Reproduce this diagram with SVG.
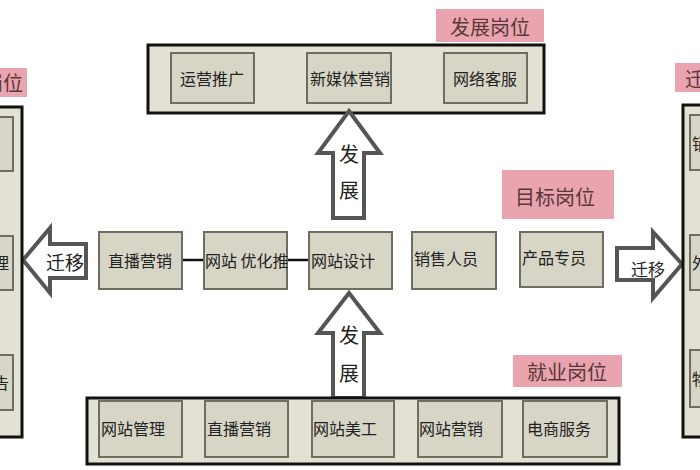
<svg xmlns="http://www.w3.org/2000/svg" width="700" height="470" viewBox="0 0 700 470">
<defs>
<style>
.panel{fill:#e3e1d3;stroke:#111;stroke-width:3}
.box{fill:#d7d5c5;stroke:#6e6d62;stroke-width:2}
.lbl{fill:#e9a4b0}
.arrow{fill:#fff;stroke:#555;stroke-width:4;stroke-linejoin:miter}
.conn{stroke:#111;stroke-width:2.5;fill:none}
text{font-family:"Noto Sans CJK SC","Noto Sans",sans-serif;fill:#222}
.t{font-size:16px;dominant-baseline:central}
.c{text-anchor:middle}
.lt{font-size:20px;fill:#5a3838;text-anchor:middle;dominant-baseline:central}
.at{font-size:20px;fill:#222;text-anchor:middle;dominant-baseline:central}
</style>
<clipPath id="clipL1"><rect x="-20" y="236" width="33" height="54"/></clipPath>
<clipPath id="clipL2"><rect x="-20" y="355" width="33" height="55"/></clipPath>
</defs>
<rect width="700" height="470" fill="#fff"/>

<g id="connectors">
<line class="conn" x1="254" y1="78" x2="307" y2="78"/>
<line class="conn" x1="391" y1="78" x2="444" y2="78"/>
<line class="conn" x1="182" y1="260" x2="204" y2="260"/>
<line class="conn" x1="287" y1="260" x2="309" y2="260"/>
<line class="conn" x1="182" y1="428" x2="205" y2="428"/>
<line class="conn" x1="288" y1="428" x2="312" y2="428"/>
<line class="conn" x1="394" y1="428" x2="418" y2="428"/>
<line class="conn" x1="502" y1="428" x2="523" y2="428"/>
</g>

<g id="top-panel">
<rect class="panel" x="148" y="45" width="396" height="68"/>
</g>
<g id="label-fazhan">
<rect class="lbl" x="436" y="9" width="108" height="33"/>
<text class="lt" x="490" y="26">发展岗位</text>
</g>
<g id="n-yunying"><rect class="box" x="171" y="53" width="83" height="50"/><text class="t c" x="212" y="78">运营推广</text></g>
<g id="n-xinmeiti"><rect class="box" x="307" y="53" width="84" height="50"/><text class="t" x="310" y="78">新媒体营销</text></g>
<g id="n-kefu"><rect class="box" x="444" y="53" width="83" height="50"/><text class="t c" x="485" y="78">网络客服</text></g>

<g id="arrow-up-top">
<polygon class="arrow" points="349,111 380,153 364,153 364,218 333,218 333,153 318,153"/>
<text class="at" x="349" y="153">发</text>
<text class="at" x="349" y="189">展</text>
</g>

<g id="label-mubiao">
<rect class="lbl" x="502" y="170" width="112" height="49"/>
<text class="lt" x="555" y="196">目标岗位</text>
</g>

<g id="n-zhibo1"><rect class="box" x="99" y="232" width="83" height="57"/><text class="t c" x="140" y="260">直播营销</text></g>
<g id="n-youhua"><rect class="box" x="204" y="232" width="83" height="57"/><text class="t" x="205" y="260">网站 优化推</text></g>
<g id="n-sheji"><rect class="box" x="309" y="232" width="83" height="57"/><text class="t" x="311" y="260">网站设计</text></g>
<g id="n-xiaoshou"><rect class="box" x="412" y="232" width="84" height="57"/><text class="t" x="414" y="258">销售人员</text></g>
<g id="n-chanpin"><rect class="box" x="520" y="232" width="83" height="55"/><text class="t" x="522" y="257">产品专员</text></g>

<g id="arrow-left">
<polygon class="arrow" points="23,260 50,228 50,244 86,244 86,278 50,278 50,293"/>
<text class="at" x="65" y="261" style="font-size:19px">迁移</text>
</g>
<g id="arrow-right">
<polygon class="arrow" points="617,248 653,248 653,232 682,264 653,298 653,280 617,280"/>
<text class="at" x="648" y="268" style="font-size:17px">迁移</text>
</g>

<g id="left-panel">
<rect class="panel" x="-10" y="107" width="32" height="330"/>
<rect class="box" x="-20" y="117" width="33" height="54"/>
<rect class="box" x="-20" y="236" width="33" height="54"/>
<rect class="box" x="-20" y="355" width="33" height="55"/>
<g clip-path="url(#clipL1)"><text class="t" x="9" y="262" text-anchor="end">管理</text></g>
<g clip-path="url(#clipL2)"><text class="t" x="9" y="382" text-anchor="end">广告</text></g>
</g>
<g id="label-left">
<rect class="lbl" x="-10" y="68" width="37" height="29"/>
<text class="lt" x="23" y="82" style="text-anchor:end">迁移岗位</text>
</g>

<g id="right-panel">
<rect class="panel" x="683" y="105" width="30" height="332"/>
<rect class="box" x="690" y="115" width="30" height="55"/>
<rect class="box" x="690" y="235" width="30" height="55"/>
<rect class="box" x="690" y="350" width="30" height="57"/>
<text class="t" x="692" y="143">销售</text>
<text class="t" x="692" y="262">外贸</text>
<text class="t" x="692" y="378">物流</text>
</g>
<g id="label-right">
<rect class="lbl" x="675" y="63" width="40" height="29"/>
<text class="lt" x="685" y="78" style="text-anchor:start">迁移岗位</text>
</g>

<g id="arrow-up-bottom">
<polygon class="arrow" points="349,293 380,333 364,333 364,398 333,398 333,333 318,333"/>
<text class="at" x="349" y="334">发</text>
<text class="at" x="349" y="372">展</text>
</g>

<g id="label-jiuye">
<rect class="lbl" x="513" y="355" width="109" height="32"/>
<text class="lt" x="567" y="371">就业岗位</text>
</g>

<g id="bottom-panel">
<rect class="panel" x="87" y="398" width="532" height="66"/>
</g>
<g id="n-guanli"><rect class="box" x="99" y="401" width="83" height="56"/><text class="t" x="101" y="428">网站管理</text></g>
<g id="n-zhibo2"><rect class="box" x="205" y="401" width="83" height="56"/><text class="t" x="207" y="428">直播营销</text></g>
<g id="n-meigong"><rect class="box" x="312" y="401" width="82" height="56"/><text class="t" x="313" y="428">网站美工</text></g>
<g id="n-yingxiao"><rect class="box" x="418" y="401" width="84" height="56"/><text class="t" x="419" y="428">网站营销</text></g>
<g id="n-dianshang"><rect class="box" x="523" y="401" width="84" height="56"/><text class="t" x="527" y="428">电商服务</text></g>
</svg>
